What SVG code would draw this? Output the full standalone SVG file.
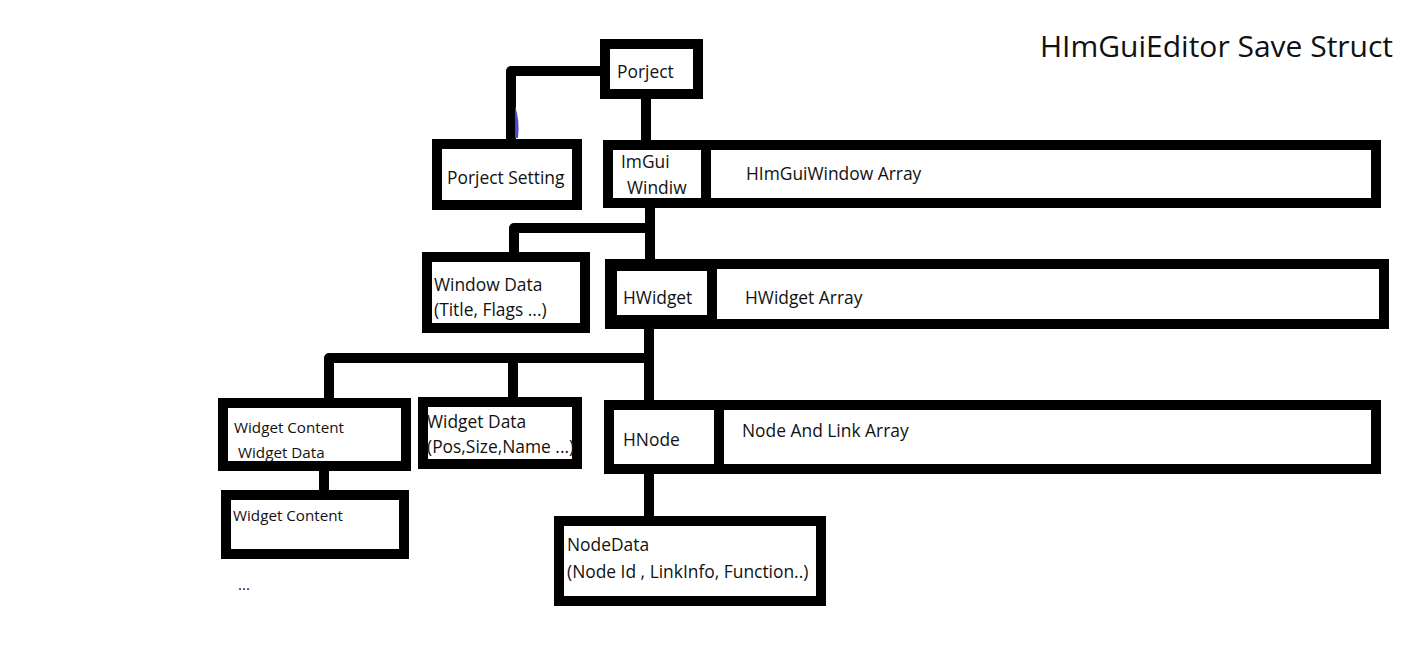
<svg xmlns="http://www.w3.org/2000/svg" width="1416" height="672" viewBox="0 0 1416 672">
<style>
.box{fill:#fff;stroke:#000;stroke-width:10}
.div{stroke:#000;stroke-width:10}
.con{fill:none;stroke:#000;stroke-width:10;stroke-linejoin:round}
text{font-family:"Open Sans","Noto Sans",sans-serif;fill:#111}
.t{font-size:17.4px}
.s{font-size:15.2px}
.title{font-size:30px}
</style>
<rect width="1416" height="672" fill="#fff"/>
<g id="connectors">
<path class="con" d="M600 71 H511 V146"/>
<path d="M515 106 Q520 120 518 138 L515 138 Z" fill="#4a4ad0"/>
<path class="con" d="M646 98 V142"/>
<path class="con" d="M650 208 V260"/>
<path class="con" d="M650 228 H514 V254"/>
<path class="con" d="M649 329 V402"/>
<path class="con" d="M649 358 H329 V400"/>
<path class="con" d="M513 358 V399"/>
<path class="con" d="M324 471 V492"/>
<path class="con" d="M649 474 V519"/>
</g>
<g id="title"><text class="title" x="1040" y="57">HImGuiEditor Save Struct</text></g>
<g id="porject">
<rect class="box" x="605" y="44" width="93" height="50"/>
<text class="t" x="617" y="78">Porject</text>
</g>
<g id="porject-setting">
<rect class="box" x="437" y="144" width="140" height="61"/>
<text class="t" x="447" y="184">Porject Setting</text>
</g>
<g id="imgui-window">
<rect class="box" x="608" y="145" width="768" height="58"/>
<line class="div" x1="706" y1="145" x2="706" y2="203"/>
<text class="t" x="621" y="168">ImGui</text>
<text class="t" x="627" y="194">Windiw</text>
<text class="t" x="746" y="180">HImGuiWindow Array</text>
</g>
<g id="window-data">
<rect class="box" x="427" y="257" width="158" height="71"/>
<text class="t" x="434" y="291">Window Data</text>
<text class="t" x="434" y="316">(Title, Flags ...)</text>
</g>
<g id="hwidget">
<rect class="box" x="610" y="264" width="774" height="60"/>
<rect class="div" x="612" y="266" width="100" height="54" fill="none" stroke-width="6"/>
<line class="div" x1="712" y1="264" x2="712" y2="324"/>
<text class="t" x="623" y="304">HWidget</text>
<text class="t" x="745" y="304">HWidget Array</text>
</g>
<g id="widget-content-1">
<rect class="box" x="223" y="403" width="183" height="63"/>
<text class="s" x="234" y="433">Widget Content</text>
<text class="s" x="238" y="458">Widget Data</text>
</g>
<g id="widget-data">
<rect class="box" x="423" y="402" width="154" height="62"/>
<text class="t" x="427" y="428">Widget Data</text>
<text class="t" x="427" y="453">(Pos,Size,Name ...)</text>
</g>
<g id="hnode">
<rect class="box" x="609" y="405" width="767" height="64"/>
<line class="div" x1="719" y1="405" x2="719" y2="469"/>
<text class="t" x="623" y="446">HNode</text>
<text class="t" x="742" y="437">Node And Link Array</text>
</g>
<g id="widget-content-2">
<rect class="box" x="226" y="495" width="178" height="59"/>
<text class="s" x="233" y="521">Widget Content</text>
</g>
<g id="ellipsis"><text class="s" x="238" y="590">...</text></g>
<g id="nodedata">
<rect class="box" x="559" y="521" width="262" height="80"/>
<text class="t" x="567" y="551">NodeData</text>
<text class="t" x="567" y="578">(Node Id , LinkInfo, Function..)</text>
</g>
</svg>
